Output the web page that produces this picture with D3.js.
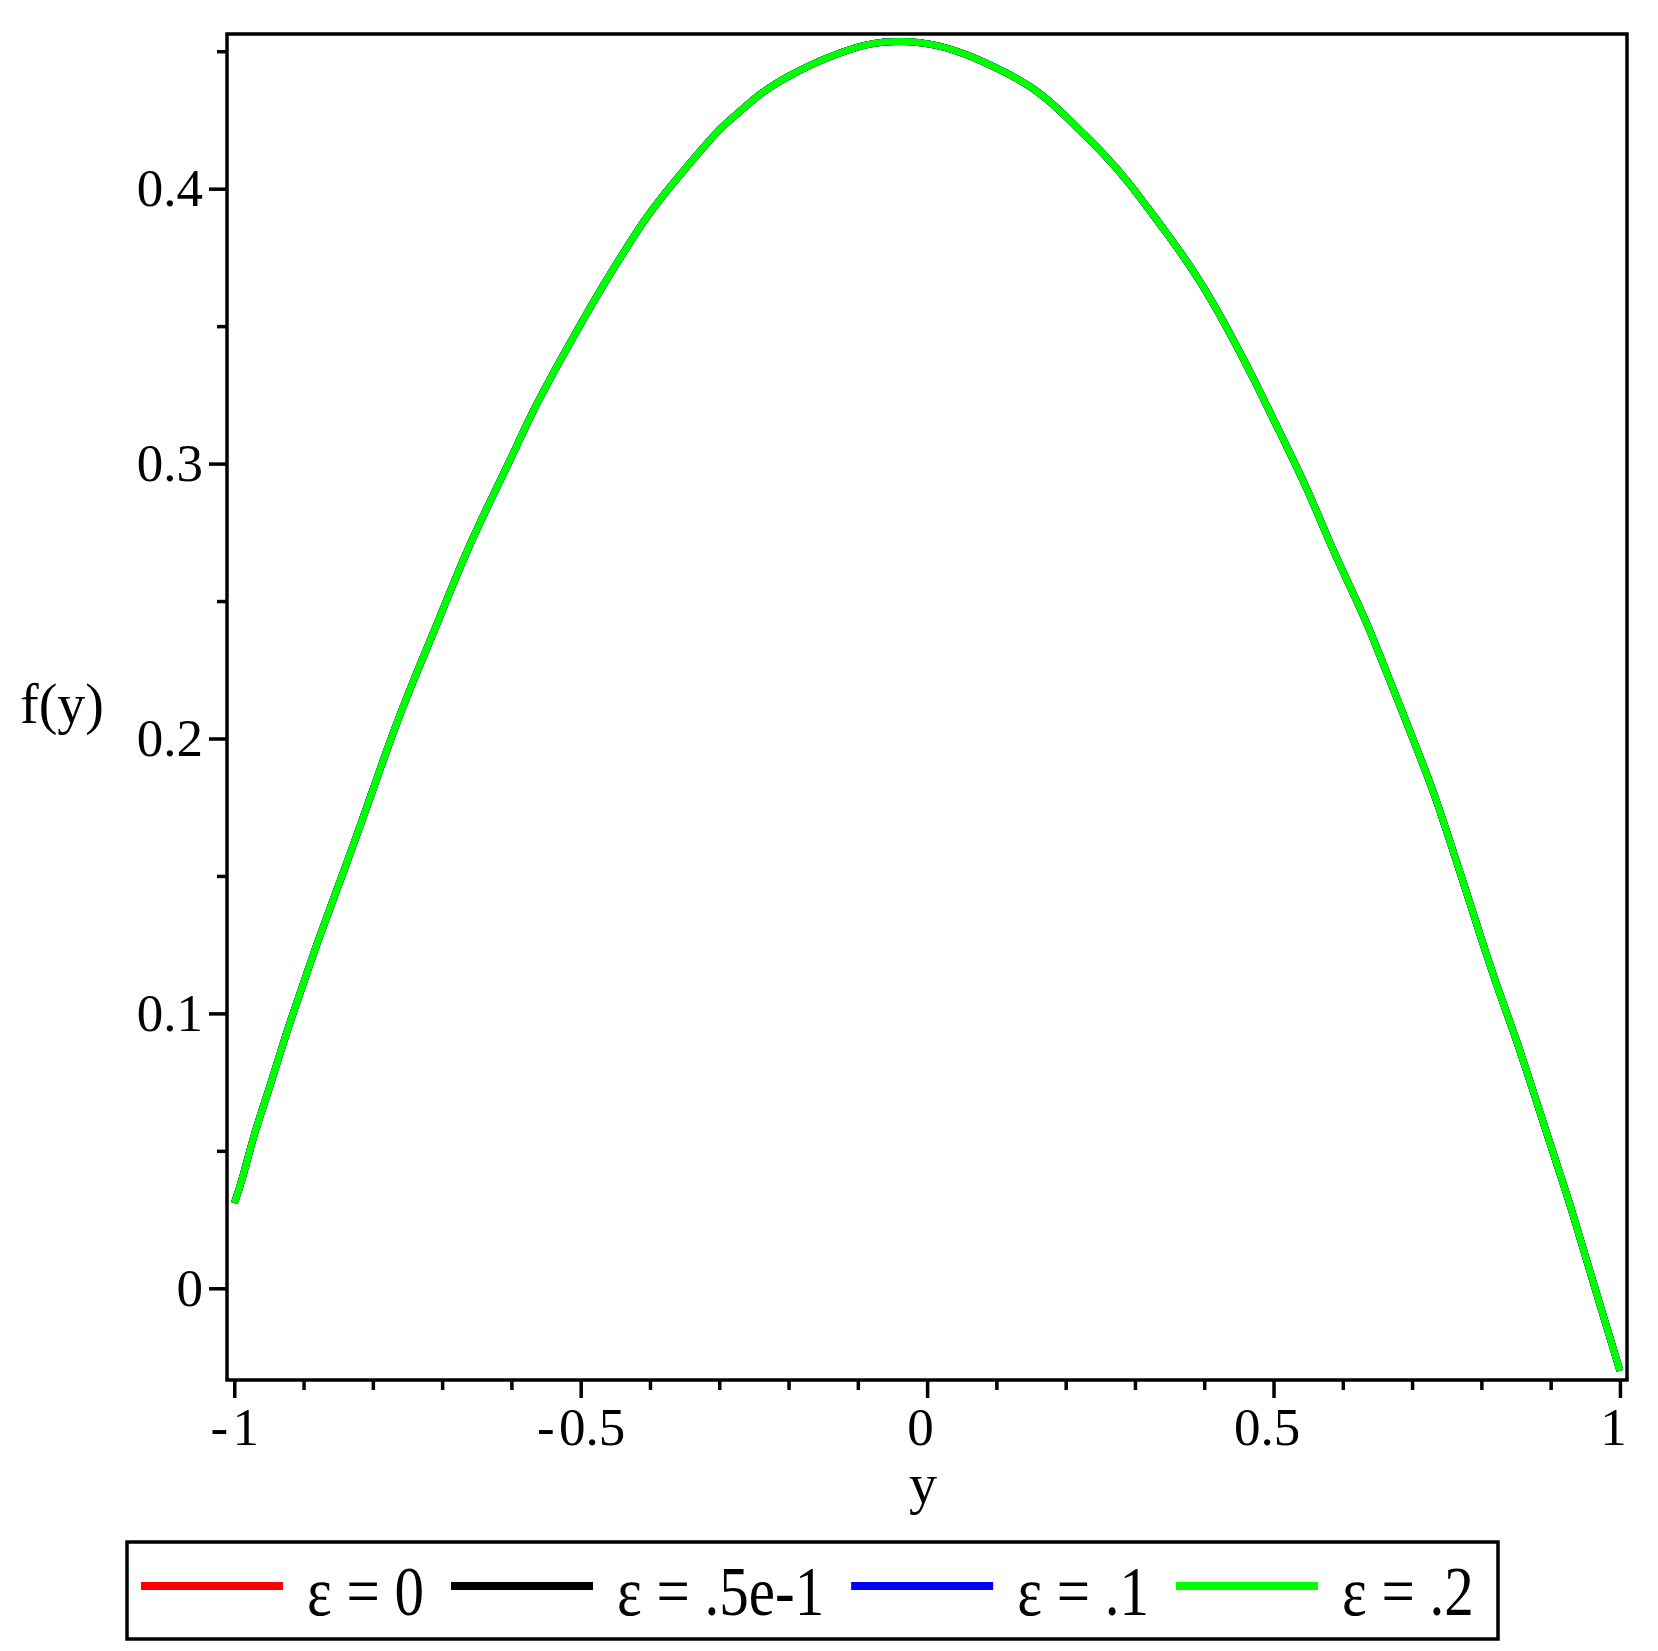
<!DOCTYPE html>
<html>
<head>
<meta charset="utf-8">
<style>
  body {
    margin: 0;
    background: #fff;
  }
  svg text {
    font-family: "Liberation Serif", "Times New Roman", serif;
    fill: #000;
  }
</style>
<script type="text/javascript" src="https://cdn.jsdelivr.net/npm/d3@7/dist/d3.min.js"></script>
</head>
<body>
<svg id="chart"></svg>
<script type="text/javascript">
// values (all four curves lie on top of each other)
let yValues = [-1.0, -0.99, -0.97, -0.95, -0.925, -0.9, -0.88, -0.84, -0.81, -0.77,
  -0.74, -0.71, -0.67, -0.645, -0.6, -0.57, -0.52, -0.47, -0.44, -0.41,
  -0.38, -0.35, -0.3, -0.27, -0.24, -0.2, -0.165, -0.125, -0.09, -0.04,
  0.02, 0.065, 0.1, 0.15, 0.19, 0.22, 0.255, 0.29, 0.32, 0.35,
  0.385, 0.415, 0.44, 0.47, 0.5, 0.54, 0.56, 0.585, 0.61, 0.635,
  0.66, 0.68, 0.705, 0.73, 0.745, 0.78, 0.8, 0.825, 0.85, 0.875,
  0.9, 0.925, 0.945, 0.97, 1.0]

let fValues = [0.031, 0.038, 0.0576, 0.072, 0.093, 0.111, 0.126, 0.153, 0.174, 0.203,
  0.222, 0.240, 0.265, 0.279, 0.302, 0.319, 0.342, 0.364, 0.376, 0.388,
  0.398, 0.407, 0.422, 0.428, 0.435, 0.441, 0.4455, 0.4495, 0.4526, 0.4541,
  0.4523, 0.448, 0.444, 0.4375, 0.429, 0.4213, 0.4127, 0.4027, 0.3925, 0.3825,
  0.370, 0.3575, 0.346, 0.3316, 0.316, 0.2955, 0.284, 0.269, 0.2555, 0.2420,
  0.226, 0.2135, 0.1975, 0.1813, 0.170, 0.143, 0.127, 0.108, 0.091, 0.0715,
  0.052, 0.033, 0.016, -0.005, -0.030]

let seriesNames = ["ε = 0", "ε = .5e-1", "ε = .1", "ε = .2"]
let seriesColors = ["#ff0000", "#000000", "#0000ff", "#00ff00"]

let xTickValues = [-1, -0.5, 0, 0.5, 1]
let xTickLabels = ["-\u200A1", "-\u200A0.5", "0", "0.5", "1"]
let xMinorTicks = [-0.9, -0.8, -0.7, -0.6, -0.4, -0.3, -0.2, -0.1, 0.1, 0.2, 0.3, 0.4, 0.6, 0.7, 0.8, 0.9]
let yTickValues = [0, 0.1, 0.2, 0.3, 0.4]
let yTickLabels = ["0", "0.1", "0.2", "0.3", "0.4"]
let yMinorTicks = [0.05, 0.15, 0.25, 0.35, 0.45]

let width = 1658,
    height = 1651,
    plotLeft = 227, plotRight = 1627, plotTop = 34, plotBottom = 1380

let svg = d3.select('#chart')
    .attr('width', width)
    .attr('height', height)

svg.append('rect')
    .attr('width', width)
    .attr('height', height)
    .attr('fill', '#fff')

let x = d3.scaleLinear().domain([-1.0105, 1.0102]).range([plotLeft, plotRight])
let y = d3.scaleLinear().domain([-0.03336, 0.45627]).range([plotBottom, plotTop])

// axes (ticks only, the frame is drawn separately)
function styleAxis(g) {
  g.select('.domain').remove()
  g.selectAll('.tick line').attr('stroke', '#000').attr('stroke-width', 3.5)
  g.selectAll('.tick text').attr('font-size', 53).attr('fill', '#000')
    .style('font-family', '"Liberation Serif", "Times New Roman", serif')
}

svg.append('g')
    .attr('transform', 'translate(0,' + plotBottom + ')')
    .call(d3.axisBottom(x).tickValues(xMinorTicks).tickSize(10).tickFormat(''))
    .call(styleAxis)

svg.append('g')
    .attr('transform', 'translate(0,' + plotBottom + ')')
    .call(d3.axisBottom(x).tickValues(xTickValues).tickSize(18).tickPadding(9)
      .tickFormat(function(d, i) { return xTickLabels[i] }))
    .call(styleAxis)
    .selectAll('.tick text')
    .attr('dx', function(d) { return d < 0 ? 0 : -7 })

svg.append('g')
    .attr('transform', 'translate(' + plotLeft + ',0)')
    .call(d3.axisLeft(y).tickValues(yMinorTicks).tickSize(10).tickFormat(''))
    .call(styleAxis)

svg.append('g')
    .attr('transform', 'translate(' + plotLeft + ',0)')
    .call(d3.axisLeft(y).tickValues(yTickValues).tickSize(18).tickPadding(6)
      .tickFormat(function(d, i) { return yTickLabels[i] }))
    .call(styleAxis)

// curves
let points = yValues.map(function(v, i) { return [v, fValues[i]] })

let line = d3.line()
    .x(function(d) { return x(d[0]) })
    .y(function(d) { return y(d[1]) })
    .curve(d3.curveBasis)

svg.selectAll('path.curve')
    .data(seriesColors)
    .enter()
    .append('path')
    .attr('class', 'curve')
    .attr('d', line(points))
    .attr('fill', 'none')
    .attr('stroke', function(d) { return d })
    .attr('stroke-width', 7)
    .attr('stroke-linejoin', 'round')

// frame
svg.append('rect')
    .attr('x', plotLeft)
    .attr('y', plotTop)
    .attr('width', plotRight - plotLeft)
    .attr('height', plotBottom - plotTop)
    .attr('fill', 'none')
    .attr('stroke', '#000')
    .attr('stroke-width', 3.5)

// axis titles
svg.append('text')
    .attr('x', 923)
    .attr('y', 1503)
    .attr('text-anchor', 'middle')
    .attr('font-size', 56)
    .text('y')

svg.append('text')
    .attr('x', 62)
    .attr('y', 723)
    .attr('text-anchor', 'middle')
    .attr('font-size', 56)
    .text('f(y)')

// legend
svg.append('rect')
    .attr('x', 127)
    .attr('y', 1542)
    .attr('width', 1371)
    .attr('height', 97)
    .attr('fill', 'none')
    .attr('stroke', '#000')
    .attr('stroke-width', 3.5)

let cursor = 141
seriesNames.forEach(function(name, i) {
  svg.append('line')
      .attr('x1', cursor)
      .attr('x2', cursor + 142)
      .attr('y1', 1586)
      .attr('y2', 1586)
      .attr('stroke', seriesColors[i])
      .attr('stroke-width', 8)
  let tx = cursor + 142 + 24
  let t = svg.append('text')
      .attr('transform', 'translate(' + tx + ',1615) scale(1,1.17)')
      .attr('font-size', 59)
      .text(name)
  cursor = tx + t.node().getComputedTextLength() + 27
})
</script>
</body>
</html>
